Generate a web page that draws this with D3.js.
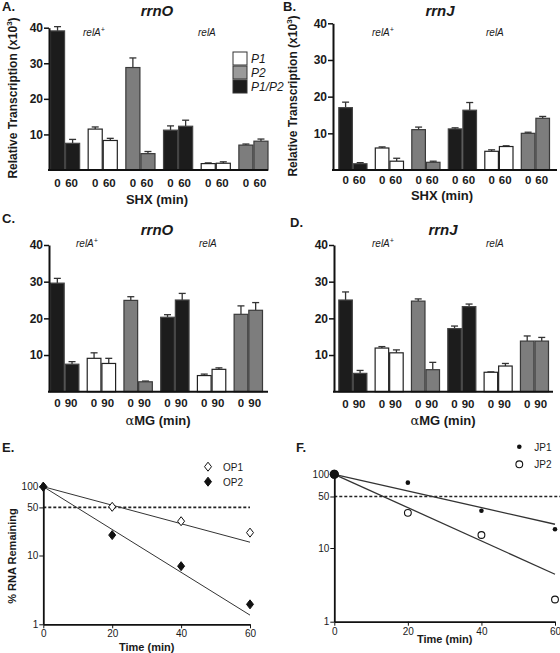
<!DOCTYPE html>
<html><head><meta charset="utf-8">
<script src="https://cdn.jsdelivr.net/npm/d3@7"></script>
<style>body{margin:0;background:#fff} text{font-family:"Liberation Sans",Arial,Helvetica,sans-serif;fill:#1a1a1a}</style>
</head><body><svg id="c" width="560" height="653"></svg>
<script>
// ---------- DATA ----------
const promoters = ["P1/P2","P1","P2","P1/P2","P1","P2"];   // bar groups (relA+ x3, relA x3)
const legendKeys = ["P1","P2","P1/P2"];
const shxTimes = ["0","60"];
const amgTimes = ["0","90"];
const barTicks = [10,20,30,40];
// Panel A rrnO, SHX
const aMean = [[39.1,7.5],[11.5,8.3],[28.8,4.6],[11.2,12.3],[1.8,1.9],[7.0,8.1]];
const aSem  = [[1.2,1.1],[0.6,0.6],[2.7,0.6],[1.2,1.7],[0.2,0.4],[0.3,0.6]];
// Panel B rrnJ, SHX
const bMean = [[17.0,1.7],[6.0,2.4],[11.0,2.1],[11.2,16.3],[5.1,6.4],[10.0,14.1]];
const bSem  = [[1.5,0.3],[0.3,0.8],[0.7,0.3],[0.3,2.1],[0.4,0.2],[0.3,0.5]];
// Panel C rrnO, aMG
const cMean = [[29.6,7.5],[9.1,7.7],[24.9,2.7],[20.3,25.0],[4.4,6.1],[21.1,22.2]];
const cSem  = [[1.3,0.7],[1.5,1.4],[1.0,0.2],[0.7,1.8],[0.4,0.4],[2.3,2.1]];
// Panel D rrnJ, aMG
const dMean = [[25.0,5.0],[11.9,10.6],[24.7,6.0],[17.2,23.2],[5.3,7.0],[13.8,13.8]];
const dSem  = [[2.2,0.8],[0.4,0.8],[0.6,2.0],[0.7,0.7],[0.1,0.7],[1.4,1.0]];
// Panels E/F: RNA decay
const decayTimes = [0,20,40,60];
const op1 = [100,51,31.5,21.5];
const op2 = [100,19.8,7.0,1.95];
const op1Fit = [100,15.6];   // fitted line values at t=0 and t=60
const op2Fit = [100,1.36];
const jp1 = [100,77,32,18];
const jp2 = [100,30,15,2.0];
const jp1Fit = [100,21];
const jp2Fit = [100,4.4];
const fitTimes = [0,60];
const logTicks = [1,10,50,100];
const timeTicks = [0,20,40,60];

// ---------- DRAW ----------
const svg = d3.select("#c");
const fills = {"P1":"#ffffff","P2":"#7d7d7d","P1/P2":"#1c1c1c"};
const strokes = {"P1":"#222","P2":"#3a3a3a","P1/P2":"#444"};

function barPanel(o){
  const g = svg.append("g");
  const y = d3.scaleLinear().domain([0,40]).range([o.y0,o.y40]);
  const gx = d3.scaleBand().domain(d3.range(6)).range([o.bx0,o.bx1]).paddingInner(0.2).paddingOuter(0);
  const sx = d3.scaleBand().domain([0,1]).range([0,gx.bandwidth()]).padding(0);
  o.mean.forEach((pair,gi)=>{
    pair.forEach((v,bi)=>{
      const xx = gx(gi)+sx(bi), w = sx.bandwidth();
      const cx = xx + w/2, top = y(v+o.sem[gi][bi]);
      g.append("line").attr("x1",cx).attr("x2",cx).attr("y1",y(v)).attr("y2",top)
        .attr("stroke","#333").attr("stroke-width",1.3);
      g.append("line").attr("x1",cx-3.5).attr("x2",cx+3.5).attr("y1",top).attr("y2",top)
        .attr("stroke","#333").attr("stroke-width",1.3);
      g.append("rect").attr("x",xx+0.5).attr("y",y(v)).attr("width",w-1).attr("height",y(0)-y(v))
        .attr("fill",fills[promoters[gi]]).attr("stroke",strokes[promoters[gi]]).attr("stroke-width",1.2);
      g.append("text").attr("x",cx + (bi===0?0:-1)).attr("y",o.tickY).attr("text-anchor","middle")
        .attr("font-size",11.5).attr("font-weight","bold").text(o.times[bi]);
    });
  });
  const ax = g.append("g").attr("transform",`translate(${o.ax0},0)`)
    .call(d3.axisLeft(y).tickValues(barTicks).tickSize(5).tickSizeOuter(0).tickPadding(1));
  ax.select(".domain").attr("stroke","#111").attr("stroke-width",2);
  ax.selectAll(".tick line").attr("stroke","#111").attr("stroke-width",1.5);
  ax.selectAll(".tick text").attr("font-size",12).attr("font-weight","bold")
    .attr("font-family","Liberation Sans, Arial, sans-serif").attr("fill","#1a1a1a");
  g.append("line").attr("x1",o.ax0-1).attr("x2",o.ax1).attr("y1",y(0)).attr("y2",y(0))
    .attr("stroke","#111").attr("stroke-width",2);
  g.append("text").attr("x",o.titleX).attr("y",o.titleY).attr("text-anchor","middle")
    .attr("font-size",15).attr("font-weight","bold").attr("font-style","italic").text(o.title);
  g.append("text").attr("x",o.letterX).attr("y",o.letterY)
    .attr("font-size",13).attr("font-weight","bold").text(o.letter);
  const xl = g.append("text").attr("x",o.xlX).attr("y",o.xlY).attr("text-anchor","middle")
    .attr("font-size",13).attr("font-weight","bold");
  if(o.alpha){ xl.append("tspan").attr("font-weight","normal").attr("font-family","DejaVu Serif, serif").attr("font-size",13).text("α"); }
  xl.append("tspan").text(o.xlabel);
  const r1 = g.append("text").attr("x",o.rel1X).attr("y",o.relY).attr("font-size",10).attr("font-style","italic").attr("fill","#333");
  r1.append("tspan").text("relA"); r1.append("tspan").attr("dy",-4).attr("font-size",7).text("+");
  g.append("text").attr("x",o.rel2X).attr("y",o.relY).attr("font-size",10).attr("font-style","italic").attr("fill","#333").text("relA");
  if(o.ylabel){
    const t = g.append("text").attr("transform",`translate(${o.ylX},${o.ylY}) rotate(-90)`)
      .attr("text-anchor","middle").attr("font-size",12).attr("font-weight","bold");
    t.append("tspan").text("Relative Transcription  (x10");
    t.append("tspan").attr("dy",-5).attr("font-size",8).text("3");
    t.append("tspan").attr("dy",5).text(")");
  }
  if(o.legend){
    legendKeys.forEach((k,i)=>{
      g.append("rect").attr("x",o.legX).attr("y",o.legY+i*14).attr("width",14).attr("height",13)
        .attr("fill",k==="P2"?"#9a9a9a":fills[k]).attr("stroke","#333").attr("stroke-width",1);
      g.append("text").attr("x",o.legX+18).attr("y",o.legY+i*14+11).attr("font-size",12)
        .attr("font-style","italic").text(k);
    });
  }
}

barPanel({mean:aMean,sem:aSem,times:shxTimes,y0:170,y40:27.7,bx0:50,bx1:268.5,ax0:49,ax1:268,
  tickY:187,title:"rrnO",titleX:157,titleY:16,letter:"A.",letterX:2,letterY:11,xlabel:"SHX (min)",xlX:157,xlY:204,
  rel1X:83,rel2X:198,relY:36,ylabel:true,ylX:17,ylY:98,legend:true,legX:233,legY:52});
barPanel({mean:bMean,sem:bSem,times:shxTimes,y0:170,y40:23.3,bx0:338.3,bx1:550,ax0:333,ax1:557,
  tickY:184,title:"rrnJ",titleX:440,titleY:16,letter:"B.",letterX:283,letterY:11,xlabel:"SHX (min)",xlX:442,xlY:200,
  rel1X:372,rel2X:486,relY:36,ylabel:true,ylX:297,ylY:96});
barPanel({mean:cMean,sem:cSem,times:amgTimes,y0:391.7,y40:245,bx0:50,bx1:263,ax0:49,ax1:268,
  tickY:407,title:"rrnO",titleX:157,titleY:235,letter:"C.",letterX:2,letterY:223,xlabel:"MG (min)",alpha:true,xlX:158,xlY:425,
  rel1X:76,rel2X:199,relY:247});
barPanel({mean:dMean,sem:dSem,times:amgTimes,y0:391.7,y40:245,bx0:338.3,bx1:549,ax0:334,ax1:553,
  tickY:408,title:"rrnJ",titleX:443,titleY:235,letter:"D.",letterX:290,letterY:227,xlabel:"MG (min)",alpha:true,xlX:443,xlY:425,
  rel1X:372,rel2X:486,relY:247});

const diamondPath = "M0,-4.5L3.5,0L0,4.5L-3.5,0Z";

function marker(g, s, cx, cy){
  if(s.shape==="diamond"){
    g.append("path").attr("d",diamondPath).attr("transform",`translate(${cx},${cy})`)
      .attr("fill",s.filled?"#111":"#fff").attr("stroke","#111").attr("stroke-width",1);
  } else {
    g.append("circle").attr("cx",cx).attr("cy",cy).attr("r",s.r)
      .attr("fill",s.filled?"#111":"#fff").attr("stroke","#111").attr("stroke-width",s.filled?0:1.1);
  }
}

function decayPanel(o){
  const g = svg.append("g");
  const x = d3.scaleLinear().domain([0,60]).range([o.x0,o.x60]);
  const y = d3.scaleLog().domain([1,100]).range([o.y1,o.y100]);
  g.append("line").attr("x1",o.x0).attr("x2",o.dashEnd).attr("y1",y(50)).attr("y2",y(50))
    .attr("stroke","#222").attr("stroke-width",1.6).attr("stroke-dasharray","3,2");
  const line = d3.line().x((d,i)=>x(fitTimes[i])).y(d=>y(d));
  o.fits.forEach(f=>g.append("path").attr("d",line(f)).attr("fill","none").attr("stroke","#333").attr("stroke-width",o.fitW));
  const ay = g.append("g").attr("transform",`translate(${o.x0},0)`)
    .call(d3.axisLeft(y).tickValues(logTicks).tickFormat(d3.format("d")).tickSize(4).tickSizeOuter(0).tickPadding(1));
  const axx = g.append("g").attr("transform",`translate(0,${o.y1})`)
    .call(d3.axisBottom(x).tickValues(timeTicks).tickSize(4).tickSizeOuter(0).tickPadding(2));
  [ay,axx].forEach(a=>{
    a.select(".domain").attr("stroke","#111").attr("stroke-width",1.8);
    a.selectAll(".tick line").attr("stroke","#111").attr("stroke-width",1);
    a.selectAll(".tick text").attr("font-size",10).attr("font-family","Liberation Sans, Arial, sans-serif").attr("fill","#222");
  });
  o.series.forEach(s=>{
    s.vals.forEach((v,i)=>{
      // where all series coincide, draw a single solid overlap marker
      const shared = o.series.every(t=>t.vals[i]===v);
      if(shared && o.overlapR){
        g.append("circle").attr("cx",x(decayTimes[i])).attr("cy",y(v)).attr("r",o.overlapR).attr("fill","#111");
      } else marker(g, s, x(decayTimes[i]), y(v));
    });
  });
  o.series.forEach((s,i)=>{
    const ly = o.legY + i*o.legDy;
    marker(g, s, o.legX, ly);
    g.append("text").attr("x",o.legX+15).attr("y",ly+4).attr("font-size",10).attr("fill","#222").text(s.name);
  });
  g.append("text").attr("x",o.letterX).attr("y",o.letterY).attr("font-size",13).attr("font-weight","bold").text(o.letter);
  g.append("text").attr("x",(o.x0+o.x60)/2).attr("y",o.xlY).attr("text-anchor","middle")
    .attr("font-size",11).attr("font-weight","bold").text("Time (min)");
  if(o.ylabel){
    g.append("text").attr("transform",`translate(${o.ylX},${o.ylY}) rotate(-90)`).attr("text-anchor","middle")
      .attr("font-size",11).attr("font-weight","bold").text("% RNA Remaining");
  }
}

decayPanel({x0:43.3,x60:250,y1:624.3,y100:486.7,dashEnd:250,fitW:1,
  fits:[op1Fit,op2Fit],
  series:[{name:"OP1",vals:op1,shape:"diamond",filled:false},{name:"OP2",vals:op2,shape:"diamond",filled:true}],
  legX:208,legY:466.7,legDy:15,letter:"E.",letterX:2,letterY:452,xlY:651,ylabel:true,ylX:16,ylY:556});
decayPanel({x0:334.3,x60:555,y1:621.7,y100:474.3,dashEnd:560,fitW:1.3,overlapR:4.5,
  fits:[jp1Fit,jp2Fit],
  series:[{name:"JP1",vals:jp1,shape:"circle",filled:true,r:2.3},{name:"JP2",vals:jp2,shape:"circle",filled:false,r:3.4}],
  legX:519.3,legY:446.7,legDy:17.6,letter:"F.",letterX:296,letterY:452,xlY:643});
</script></body></html>
